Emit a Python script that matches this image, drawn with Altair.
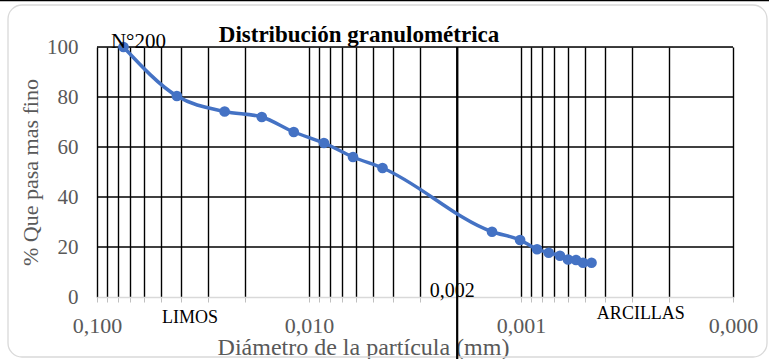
import altair as alt
import pandas as pd

# ---- data ----
diametro = [0.075, 0.042, 0.025, 0.0167, 0.0118, 0.0085, 0.0062, 0.0045,
            0.00137, 0.00101, 0.00084, 0.00074, 0.000655, 0.0006, 0.00055, 0.00051, 0.000465]
pasa = [100, 80.4, 74.2, 72, 66, 61.6, 56, 51.6,
        26.1, 22.8, 19.1, 17.7, 16.5, 15.0, 14.8, 13.7, 13.7]

x_ticks = [0.1, 0.09, 0.08, 0.07, 0.06, 0.05, 0.04, 0.03, 0.02,
           0.01, 0.009, 0.008, 0.007, 0.006, 0.005, 0.004, 0.003, 0.002,
           0.001, 0.0009, 0.0008, 0.0007, 0.0006, 0.0005, 0.0004, 0.0003, 0.0002,
           0.0001]
y_ticks = [0, 20, 40, 60, 80, 100]
y_grid = [20, 40, 60, 80, 100]

notes_text = ["N°200", "LIMOS", "0,002", "ARCILLAS"]
notes_x = [0.075, 0.0364, 0.002, 0.000272]
notes_y = [100, -10.4, 0, -8.8]

limit_x = [0.002]
title_text = "Distribución granulométrica"

FONT = "Liberation Serif"
GRAY = "#595959"

df = pd.DataFrame({"d": diametro, "p": pasa})
notes = pd.DataFrame({"t": notes_text, "d": notes_x, "p": notes_y})

xscale = alt.Scale(type="log", domain=[0.0001, 0.1], reverse=True)
yscale = alt.Scale(domain=[0, 100], nice=False)

label_expr = ("abs(log(datum.value)/LN10 - round(log(datum.value)/LN10)) < 0.001 ? "
              "replace(format(datum.value, '.3f'), '.', ',') : ''")

XA = alt.Axis(values=x_ticks, labelExpr=label_expr, grid=True,
              gridColor="black", gridWidth=1.4, gridOpacity=1,
              domainColor="#d9d9d9", domainWidth=1.5,
              tickColor="#bfbfbf", tickSize=5, tickWidth=1,
              labelFont=FONT, labelFontSize=22, labelColor=GRAY,
              labelPadding=13, labelFlush=False, labelOverlap=False,
              title="Diámetro de la partícula (mm)",
              titleFont=FONT, titleFontSize=24, titleFontWeight="normal",
              titleColor=GRAY, titleX=266, titleY=57,
              titleBaseline="alphabetic")
YA = alt.Axis(values=y_ticks, grid=False, domain=False, ticks=False,
              labelFont=FONT, labelFontSize=21, labelColor=GRAY,
              labelPadding=19,
              title="% Que pasa mas fino", titleFont=FONT,
              titleFontSize=22, titleFontWeight="normal",
              titleColor=GRAY, titleX=-67, titleY=125,
              titleBaseline="middle", titleAngle=-90)

XN = alt.X("d:Q", scale=xscale, axis=XA)
YN = alt.Y("p:Q", scale=yscale, axis=YA)

hgrid = alt.Chart(pd.DataFrame({"p": y_grid})).mark_rule(color="black", strokeWidth=1.4).encode(
    y=YN,
)

limit = alt.Chart(pd.DataFrame({"d": limit_x, "p": [100], "bot": [-25]})).mark_rule(
    color="black", strokeWidth=2.2).encode(
    x=XN, y=YN, y2="bot:Q",
)

line = alt.Chart(df).mark_line(color="#4472C4", strokeWidth=3.5, interpolate="monotone").encode(
    x=XN, y=YN)
pts = alt.Chart(df).mark_circle(color="#4472C4", size=115, opacity=1).encode(
    x=XN, y=YN)

def note(i, size, dx=0, dy=0):
    return alt.Chart(notes.iloc[[i]]).mark_text(
        font=FONT, fontSize=size, color="black", baseline="alphabetic",
        align="center", dx=dx, dy=dy).encode(
        x=XN, y=YN, text="t:N")

frame = alt.Chart(alt.Data(values=[{}])).mark_rect(
    fillOpacity=0, stroke="#d9d9d9", strokeWidth=1.3, cornerRadius=14).encode(
    x=alt.value(-89), x2=alt.value(670), y=alt.value(-42), y2=alt.value(310))
topline = alt.Chart(alt.Data(values=[{}])).mark_rule(color="black", strokeWidth=1.5).encode(
    x=alt.value(-97), x2=alt.value(672), y=alt.value(-46.5))
title = alt.Chart(pd.DataFrame({"t": [title_text]})).mark_text(
    font=FONT, fontSize=23, fontWeight="bold", color="black",
    baseline="alphabetic", align="center").encode(
    x=alt.value(262), y=alt.value(-5.5), text="t:N")

chart = alt.layer(
    frame, topline, hgrid, limit, line, pts,
    note(0, 21, dx=15, dy=1), note(1, 18), note(2, 20, dx=-5), note(3, 18), title,
).properties(
    width=636, height=250,
    autosize=alt.AutoSizeParams(type="none"),
    padding={"left": 97, "top": 47, "right": 36, "bottom": 62},
).configure_view(stroke=None).configure(
    background="white", font=FONT
).configure_axis(labelFont=FONT, titleFont=FONT).configure_text(font=FONT)

chart.save("out.html", embed_options={"renderer": "svg", "actions": False})
